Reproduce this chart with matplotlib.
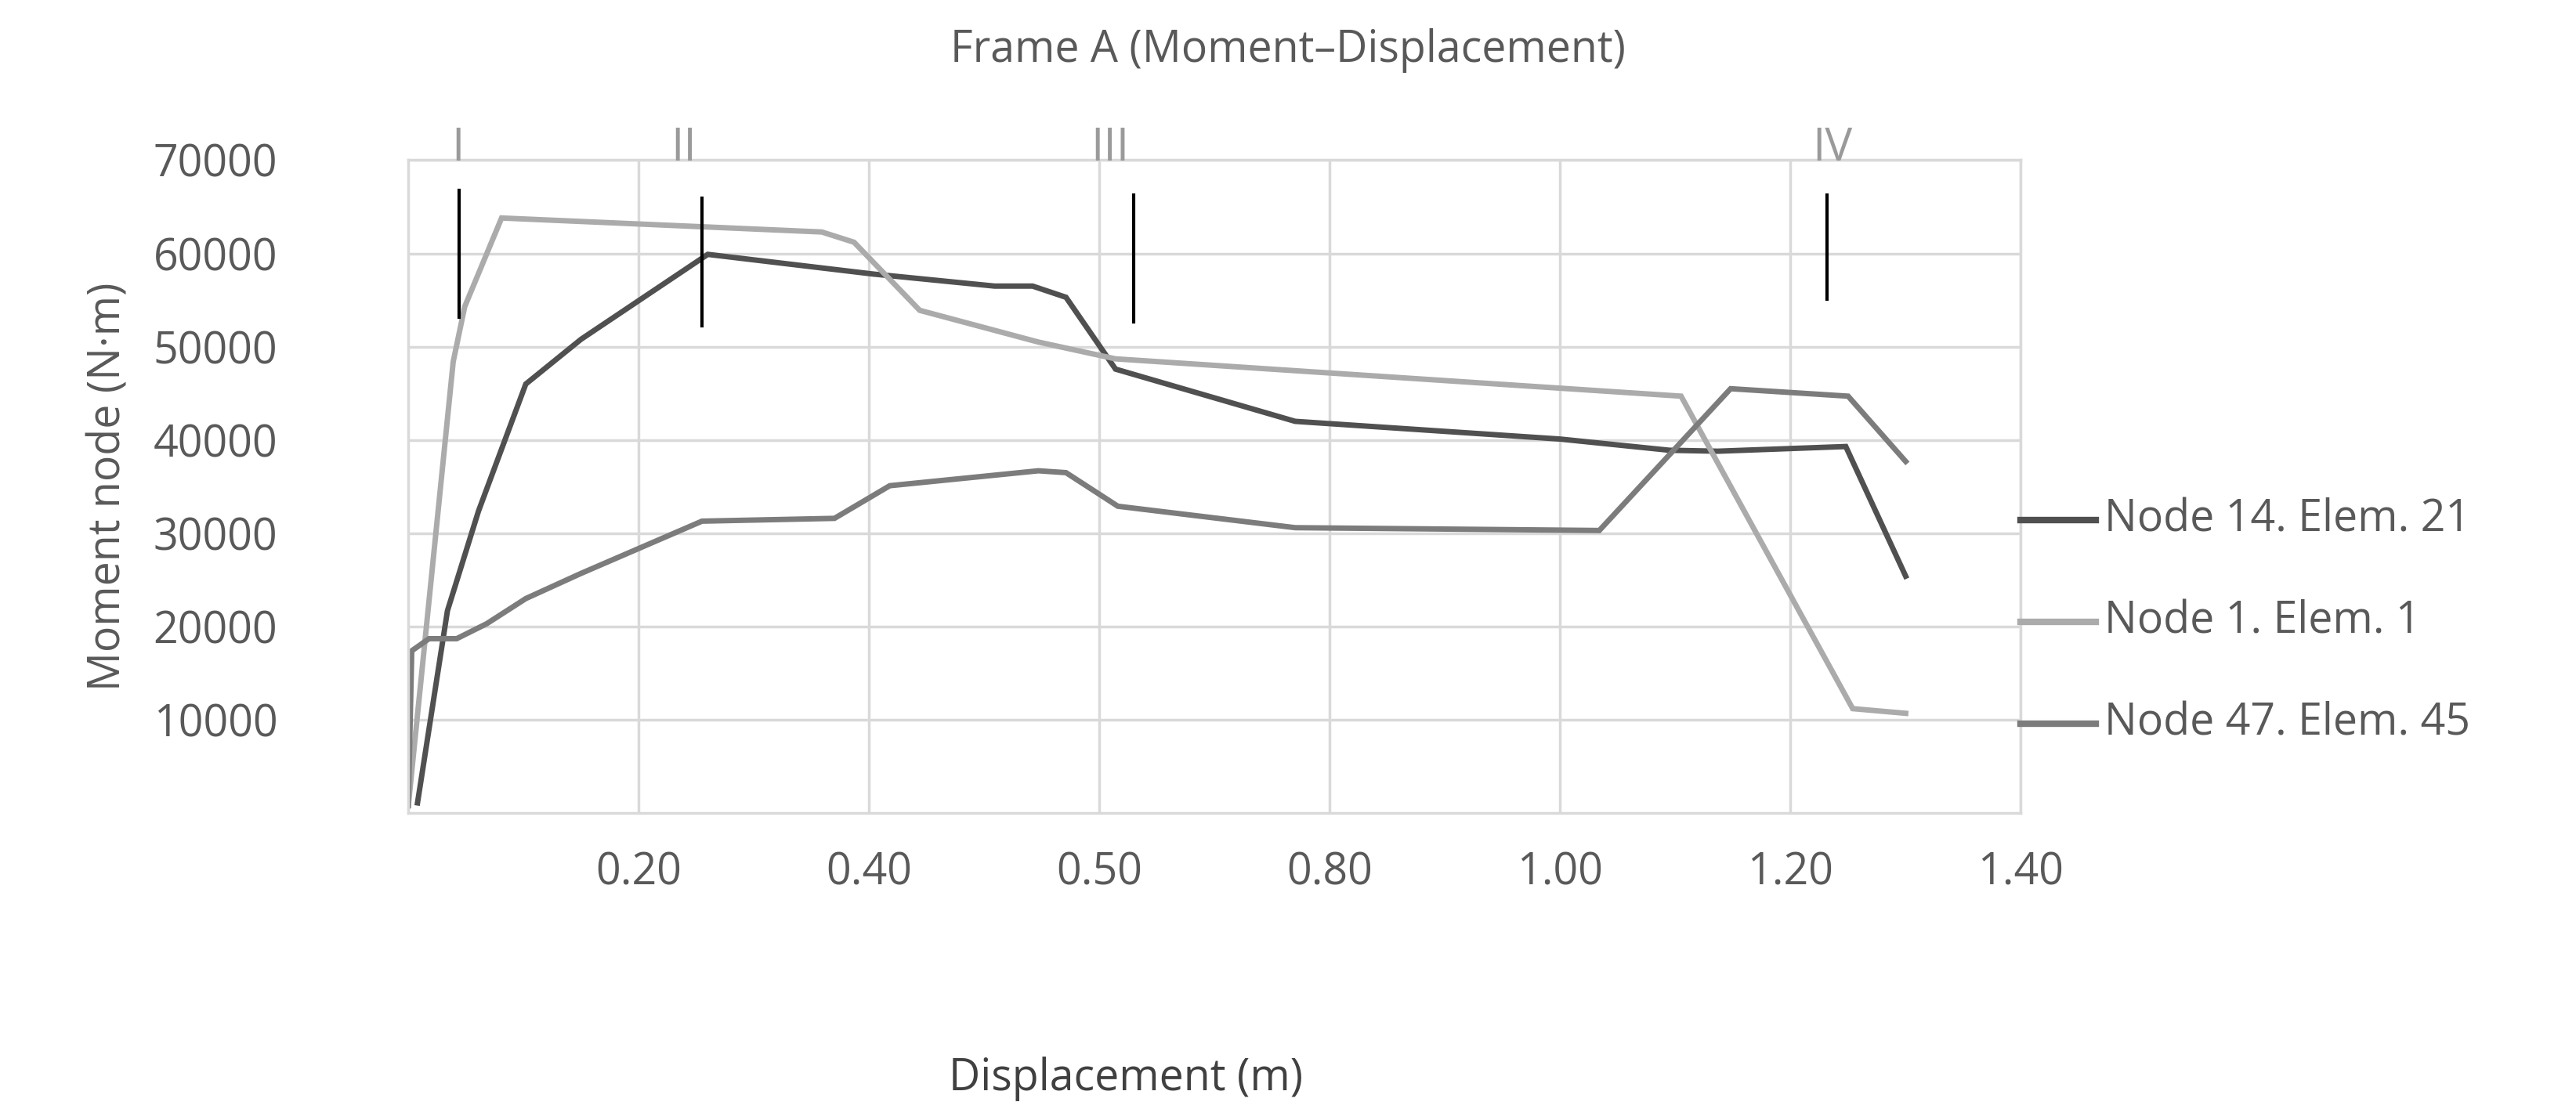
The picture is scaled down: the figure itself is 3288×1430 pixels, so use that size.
import matplotlib
matplotlib.use("Agg")
import matplotlib.pyplot as plt

# Node 14. Elem. 21
x_n14 = [0.008, 0.034, 0.061, 0.102, 0.150, 0.260, 0.403, 0.509, 0.542, 0.571,
         0.614, 0.770, 1.000, 1.095, 1.137, 1.248, 1.300]
y_n14 = [1100, 21700, 32400, 46000, 50800, 59900, 57800, 56500, 56500, 55300,
         47600, 42000, 40100, 38900, 38800, 39300, 25400]

# Node 1. Elem. 1
x_n1 = [0.0, 0.039, 0.049, 0.081, 0.359, 0.387, 0.444, 0.547, 0.614, 1.105,
        1.254, 1.300]
y_n1 = [800, 48400, 54300, 63800, 62300, 61200, 53900, 50500, 48700, 44700,
        11200, 10700]

# Node 47. Elem. 45
x_n47 = [0.0, 0.003, 0.018, 0.042, 0.068, 0.102, 0.150, 0.255, 0.370, 0.418,
         0.547, 0.571, 0.616, 0.770, 1.034, 1.148, 1.250, 1.300]
y_n47 = [800, 17400, 18700, 18700, 20300, 23000, 25700, 31300, 31600, 35100,
         36700, 36500, 32900, 30600, 30300, 45500, 44700, 37700]

series_names = ["Node 14. Elem. 21", "Node 1. Elem. 1", "Node 47. Elem. 45"]
series_colors = ["#505050", "#ababab", "#7c7c7c"]

# stage markers
stage_labels = ["I", "II", "III", "IV"]
stage_x = [0.044, 0.255, 0.630, 1.232]
stage_lo = [53200, 52200, 52700, 55100]
stage_hi = [66800, 65900, 66300, 66300]
stage_label_x = [0.043, 0.239, 0.609, 1.236]

x_ticks = [0.2, 0.4, 0.6, 0.8, 1.0, 1.2, 1.4]
x_tick_labels = ["0.20", "0.40", "0.50", "0.80", "1.00", "1.20", "1.40"]
y_ticks = [10000, 20000, 30000, 40000, 50000, 60000, 70000]

plt.rcParams["font.family"] = ["Open Sans", "DejaVu Sans"]
text_col = "#595959"
grid_col = "#d9d9d9"

fig = plt.figure(figsize=(32.88, 14.30), dpi=100)
ax = fig.add_axes([0.1585, 0.274, 0.626, 0.583])

for xs, ys, c in zip([x_n14, x_n1, x_n47], [y_n14, y_n1, y_n47], series_colors):
    ax.plot(xs, ys, color=c, lw=5, solid_joinstyle="miter")

for sx, lo, hi in zip(stage_x, stage_lo, stage_hi):
    ax.plot([sx, sx], [lo, hi], color="black", lw=3)
for lab, lx in zip(stage_labels, stage_label_x):
    ax.text(lx, 68800, lab, ha="center", va="bottom", fontsize=42,
            color="#9a9a9a", clip_on=False)

ax.set_xlim(0, 1.4)
ax.set_ylim(0, 70000)
ax.set_xticks(x_ticks)
ax.set_xticklabels(x_tick_labels)
ax.set_yticks(y_ticks)
ax.set_yticklabels([str(v) for v in y_ticks])
ax.grid(True, color=grid_col, lw=2.5)
ax.set_axisbelow(True)
for sp in ax.spines.values():
    sp.set_color(grid_col)
    sp.set_linewidth(2.5)
ax.tick_params(length=0, labelsize=40, labelcolor=text_col)
ax.tick_params(axis="x", pad=35)
ax.tick_params(axis="y", pad=120)

ax.set_ylabel("Moment node (N·m)", fontsize=40, color=text_col, labelpad=20)
fig.text(0.5, 0.955, "Frame A (Moment–Displacement)", ha="center", va="center",
         fontsize=40, color=text_col)
fig.text(0.437, 0.037, "Displacement (m)", ha="center", va="center",
         fontsize=40, color="#404040")

# legend on the right
leg_y = [0.536, 0.445, 0.354]
for name, c, ly in zip(series_names, series_colors, leg_y):
    fig.add_artist(plt.Line2D([0.7845, 0.8135], [ly, ly], color=c, lw=6,
                              transform=fig.transFigure))
    fig.text(0.817, ly, name, ha="left", va="center", fontsize=40, color=text_col)

fig.savefig("out.png", dpi=100, facecolor="white")
